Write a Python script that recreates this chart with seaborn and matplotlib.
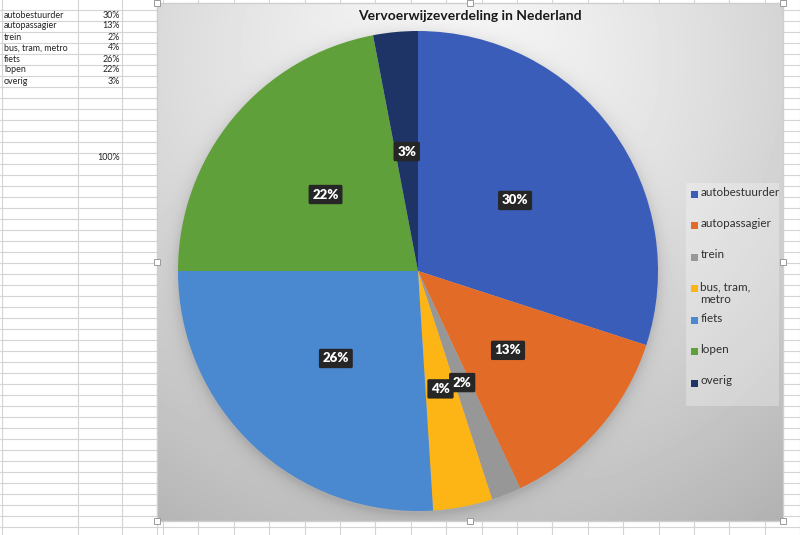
import numpy as np
import matplotlib
matplotlib.use("Agg")
import matplotlib.pyplot as plt
import seaborn as sns
import textwrap
from matplotlib.patches import Rectangle

# ---- data ----
categories = ["autobestuurder", "autopassagier", "trein", "bus, tram, metro",
              "fiets", "lopen", "overig"]
shares = [30, 13, 2, 4, 26, 22, 3]
colors = ["#3A5DBA", "#E36B28", "#979797", "#FDB515", "#4A88CF", "#60A03B", "#1E3466"]
title = "Vervoerwijzeverdeling in Nederland"

sns.set_theme(style="white")
plt.rcParams['font.family'] = ['Lato', 'DejaVu Sans']

fig = plt.figure(figsize=(8, 5.35), dpi=100)
bg = fig.add_axes([0, 0, 1, 1])
bg.set_xlim(0, 800)
bg.set_ylim(535, 0)
bg.axis('off')

# ---- spreadsheet grid ----
gc = '#d4d4d4'
for y in np.arange(9.5, 536, 11):
    bg.plot([0, 800], [y, y], color=gc, lw=0.8, zorder=1)
vcols = [2, 78, 122, 157] + list(np.arange(163, 801, 35.4))
for x in vcols:
    bg.plot([x, x], [0, 535], color=gc, lw=0.8, zorder=1)

for i, (c, v) in enumerate(zip(categories, shares)):
    yc = 15 + 11 * i
    bg.text(4, yc, c, fontsize=6.4, va='center', ha='left', color='#222222', zorder=2)
    bg.text(120, yc, f"{v}%", fontsize=6.4, va='center', ha='right', color='#222222', zorder=2)
bg.text(120, 157.5, f"{sum(shares)}%", fontsize=6.4, va='center', ha='right',
        color='#222222', zorder=2)

# ---- chart area background (gradient + pie shadow) ----
yy, xx = np.mgrid[3:521, 157:783] + 0.5
d = np.hypot(xx - 450, yy - 60)
val = 0.97 - 0.27 * (d / 560) ** 1.3
r = np.hypot(xx - 418, yy - 274)
val -= 0.10 * np.exp(-np.clip(r - 240, 0, None) / 7)
val = np.clip(val, 0, 1)
bg.imshow(val, cmap='gray', vmin=0, vmax=1, extent=[157, 783, 521, 3],
          aspect='auto', zorder=3, interpolation='bilinear')
bg.add_patch(Rectangle((157, 3), 626, 518, fill=False, ec='#cfcfcf', lw=1, zorder=4))
for hx in (157, 470, 783):
    for hy in (3, 262, 521):
        if hx == 470 and hy == 262:
            continue
        bg.add_patch(Rectangle((hx - 3, hy - 3), 6, 6, fc='white', ec='#9a9a9a',
                               lw=0.7, zorder=6))

bg.text(470, 16, title, fontsize=10, fontweight='bold', ha='center', va='center',
        color='#1a1a1a', zorder=7)

# ---- legend (manual, Excel-style slots) ----
bg.add_patch(Rectangle((686, 183), 93, 223, fc='white', alpha=0.28, ec='none', zorder=5))
for i, (c, col) in enumerate(zip(categories, colors)):
    ys = 194 + 31.5 * i
    bg.add_patch(Rectangle((691, ys - 3.5), 7, 7, fc=col, ec='none', zorder=6))
    lab = textwrap.fill(c, width=10, break_long_words=False)
    bg.text(700.5, ys - 7.5, lab, fontsize=8.4, va='top', ha='left', color='#303030',
            linespacing=1.27, zorder=6)

# ---- pie ----
ax = fig.add_axes([178 / 800, 1 - 512 / 535, 480 / 800, 482 / 535])
wedges, texts, autotexts = ax.pie(
    shares, colors=colors, startangle=90, counterclock=False,
    autopct='%.0f%%', pctdistance=0.5,
    textprops=dict(color='white', fontsize=9.5, fontweight='heavy'),
    wedgeprops=dict(linewidth=0))
for t in autotexts:
    t.set_bbox(dict(boxstyle='round,pad=0.28,rounding_size=0.12', fc='#262626', ec='none'))
ax.set_xlim(-1, 1)
ax.set_ylim(-1, 1)
ax.axis('off')

fig.savefig("out.png", dpi=100)
